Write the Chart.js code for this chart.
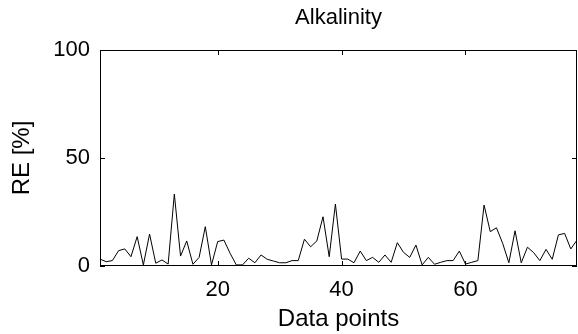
<!DOCTYPE html>
<html>
<head>
<meta charset="utf-8">
<script src="https://cdn.jsdelivr.net/npm/chart.js@4/dist/chart.umd.min.js"></script>
<style>
  body { margin: 0; background: #fff; }
  #wrap { width: 578px; height: 334px; }
</style>
</head>
<body>
<div id="wrap"><canvas id="chart" width="578" height="334"></canvas></div>
<script>
// relative error per data point
const reValues = [
    3.2, 2.0, 2.5, 7.1, 7.9, 4.3, 13.6, 0.5, 14.8, 1.3,
    2.8, 0.9, 33.3, 4.6, 11.6, 0.8, 4.0, 18.2, 0.5, 11.3,
    12.0, 5.9, 0.5, 0.5, 3.6, 1.5, 5.1, 3.1, 2.3, 1.5,
    1.5, 2.5, 2.5, 12.4, 8.9, 11.6, 22.8, 4.3, 28.7, 3.2,
    3.2, 1.5, 6.9, 2.5, 4.0, 1.7, 5.1, 1.7, 10.8, 6.3,
    4.0, 9.7, 0.5, 4.0, 0.8, 1.7, 2.5, 2.5, 6.9, 0.9,
    1.7, 2.5, 28.2, 15.9, 17.7, 10.5, 1.5, 16.3, 1.5, 8.7,
    6.2, 2.5, 7.7, 3.1, 14.4, 15.1, 7.9, 12.0
];
const xTicks = [20, 40, 60];
const yTicks = [0, 50, 100];

const points = reValues.map((v, i) => ({ x: i + 1, y: v }));
const family = '"Liberation Sans", Arial, Helvetica, sans-serif';
const tickFont = { family, size: 22 };
const labelFont = { family, size: 24 };

// matlab style box with inward tick marks
const boxPlugin = {
    id: 'box',
    afterDraw(chart) {
        const { ctx, chartArea: a, scales } = chart;
        const len = 5;
        ctx.save();
        ctx.strokeStyle = '#000';
        ctx.lineWidth = 1;
        ctx.strokeRect(Math.round(a.left) + 0.5, Math.round(a.top) + 0.5,
            Math.round(a.right - a.left) - 1, Math.round(a.bottom - a.top) - 1);
        ctx.beginPath();
        xTicks.forEach(v => {
            const px = Math.round(scales.x.getPixelForValue(v)) + 0.5;
            ctx.moveTo(px, a.bottom); ctx.lineTo(px, a.bottom - len);
            ctx.moveTo(px, a.top); ctx.lineTo(px, a.top + len);
        });
        yTicks.forEach(v => {
            const py = Math.round(scales.y.getPixelForValue(v)) + 0.5;
            ctx.moveTo(a.left, py); ctx.lineTo(a.left + len, py);
            ctx.moveTo(a.right, py); ctx.lineTo(a.right - len, py);
        });
        ctx.stroke();
        ctx.restore();
    }
};

new Chart(document.getElementById('chart'), {
    type: 'line',
    data: {
        datasets: [{
            data: points,
            borderColor: '#000',
            borderWidth: 1,
            pointRadius: 0,
            tension: 0,
            fill: false
        }]
    },
    options: {
        responsive: false,
        animation: false,
        layout: { padding: { left: 0, right: 1, top: 0, bottom: 0 } },
        plugins: {
            legend: { display: false },
            tooltip: { enabled: false }
        },
        scales: {
            x: {
                type: 'linear',
                min: 1,
                max: reValues.length,
                afterBuildTicks: s => { s.ticks = xTicks.map(v => ({ value: v })); },
                afterFit: s => { s.height = 68; },
                grid: { display: false, drawTicks: false },
                border: { display: false },
                ticks: { color: '#000', font: tickFont, padding: 11 },
                title: { display: true, text: 'Data points', color: '#000', font: labelFont, padding: { top: 0, bottom: 0 } }
            },
            // top axis only carries the title so it is centred over the plot
            x2: {
                type: 'linear',
                axis: 'x',
                position: 'top',
                min: 1,
                max: reValues.length,
                afterFit: s => { s.height = 50; },
                grid: { display: false, drawTicks: false },
                border: { display: false },
                ticks: { display: false },
                title: { display: true, text: 'Alkalinity', color: '#000', font: { family, size: 22 }, padding: { top: 5, bottom: 0 } }
            },
            y: {
                min: 0,
                max: 100,
                afterBuildTicks: s => { s.ticks = yTicks.map(v => ({ value: v })); },
                afterFit: s => { s.width = 100; },
                grid: { display: false, drawTicks: false },
                border: { display: false },
                ticks: { color: '#000', font: tickFont, padding: 10 },
                title: { display: true, text: 'RE [%]', color: '#000', font: labelFont, padding: { top: 8, bottom: 0 } }
            }
        }
    },
    plugins: [boxPlugin]
});
</script>
</body>
</html>
